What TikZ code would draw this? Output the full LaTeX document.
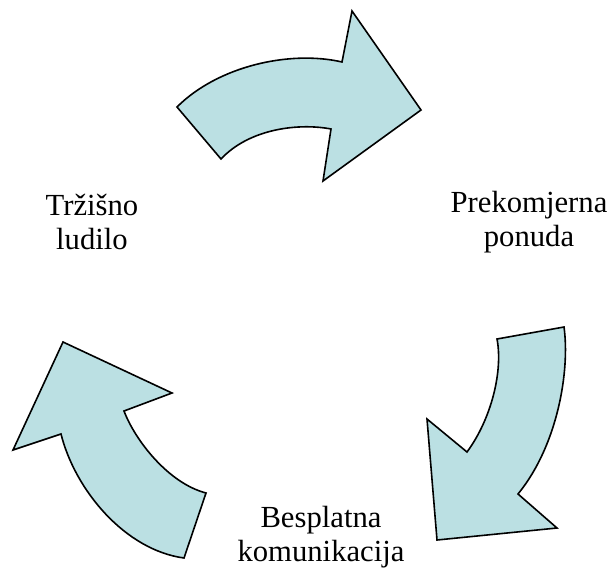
\documentclass[tikz,border=0pt]{standalone}
\usepackage{fontspec}
\setmainfont{Liberation Serif}
\definecolor{arrowfill}{RGB}{187,224,227}
\tikzset{
    blockarrow/.style = {draw = black, fill = arrowfill, line width = 1.2pt, line join = miter},
    cyclelabel/.style = {align = center, font = \fontsize{23}{26}\selectfont}
}
\begin{document}
\begin{tikzpicture}[x = 0.75pt, y = -0.75pt]
            \useasboundingbox (0,0) rectangle (609,567);
            % top arrow
            \draw[blockarrow] (177,107) .. controls (218,66) and (290,50) .. (342,62)
                -- (352,11) -- (421,110) -- (323,181) -- (331,129)
                .. controls (300,123) and (250,128) .. (221,159) -- cycle;
            % right arrow
            \draw[blockarrow] (497,339) -- (564,327)
                .. controls (570,370) and (558,445) .. (518,494)
                -- (557,528) -- (437,540) -- (427,419) -- (467,452)
                .. controls (492,418) and (503,370) .. (497,339) -- cycle;
            % left arrow
            \draw[blockarrow] (184,558) -- (206,493)
                .. controls (168,483) and (135,440) .. (124,411)
                -- (172,393) -- (63,342) -- (13,450) -- (61,434)
                .. controls (75,490) and (125,550) .. (184,558) -- cycle;
            \node[cyclelabel] (trziste) at (92,222) {Tržišno\\ludilo};
            \node[cyclelabel] (ponuda) at (529,222) {Prekomjerna\\ponuda};
            \node[cyclelabel] (komunikacija) at (321,537) {Besplatna\\komunikacija};
\end{tikzpicture}
\end{document}
